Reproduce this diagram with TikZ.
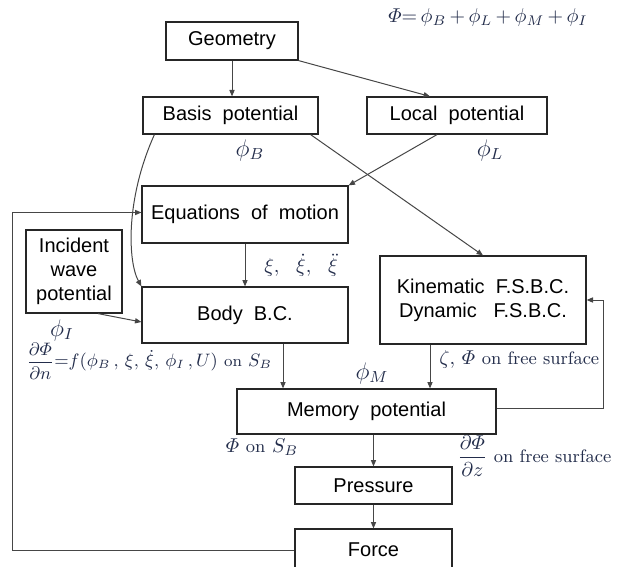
\documentclass[tikz,border=0pt]{standalone}
\usepackage{amsmath,amssymb}
\usepackage{fontspec}
\usepackage{xcolor}
\usepackage{tikz}
\usetikzlibrary{positioning,arrows.meta,calc}
\newfontfamily\boxfont{Liberation Sans}
\definecolor{edge}{RGB}{70,70,70}
\definecolor{lbl}{RGB}{35,45,75}
\tikzset{
  blk/.style={draw=black!85, line width=0.6pt, inner sep=0pt, align=center,
    font=\boxfont\fontsize{10}{12}\selectfont},
  flow/.style={draw=edge, line width=0.5pt, -{Triangle[length=3.2pt,width=2.6pt]}},
  lab/.style={lbl, font=\normalsize},
  pot/.style={lbl, font=\large}
}

\begin{document}
\begin{tikzpicture}[x=0.5pt, y=-0.5pt]
  \useasboundingbox (0,0) rectangle (627,567);
  \clip (0,0) rectangle (627,567);
  % boxes
  \node[blk, minimum width=66pt,  minimum height=19pt]   (geom)  at (232,41)    {Geometry};
  \node[blk, minimum width=87.5pt,minimum height=18.5pt] (basis) at (230.5,115.5) {Basis\ \ potential};
  \node[blk, minimum width=90pt,  minimum height=18.5pt] (local) at (457,115.5) {Local\ \ potential};
  \node[blk, minimum width=103pt, minimum height=28.5pt] (eom)   at (245,214.5) {Equations\ \ of\ \ motion};
  \node[blk, minimum width=48pt,  minimum height=41.5pt] (inc)   at (74,271.5)  {Incident\\wave\\potential};
  \node[blk, minimum width=103pt, minimum height=28pt]   (body)  at (245,315)   {Body\ \ B.C.};
  \node[blk, minimum width=103pt, minimum height=44pt]   (kin)   at (483,300)   {Kinematic\ \ F.S.B.C.\\Dynamic\ \ \ F.S.B.C.};
  \node[blk, minimum width=129.5pt,minimum height=22.5pt](mem)   at (366.5,411.5) {Memory\ \ potential};
  \node[blk, minimum width=78.5pt,minimum height=18.5pt] (pres)  at (373.5,485.5) {Pressure};
  \node[blk, minimum width=78.5pt,minimum height=21pt]   (force) at (373.5,550) {Force};

  % labels
  \node[lab] (total) at (488,18) {$\varPhi{=}\,\phi_B{\,+}\,\phi_L{\,+}\,\phi_M{\,+}\,\phi_I$};
  \node[pot] (phib)  at (250,150) {$\phi_B$};
  \node[pot] (phil)  at (490,150) {$\phi_L$};
  \node[pot] (phii)  at (62,330)  {$\phi_I$};
  \node[pot] (phim)  at (372,373) {$\phi_M$};
  \node[lab] (xis)   at (301,265) {$\xi,\ \ \dot\xi,\ \ \ddot\xi$};
  \node[lab, font=\small, anchor=west, inner sep=0pt] (bodyeq) at (26,361)
    {$\dfrac{\partial\varPhi}{\partial n}{=}f(\phi_B\,,\,\xi,\,\dot\xi,\,\phi_I\,,U)$ {\footnotesize on} $S_B$};
  \node[lab, anchor=west, inner sep=0pt] (zeta) at (439,359) {$\zeta,\,\varPhi$ {\small on free surface}};
  \node[lab] (phisb) at (262,447) {$\varPhi$ {\small on} $S_B$};
  \node[lab, anchor=west, inner sep=0pt] (dz) at (457,456)
    {$\dfrac{\partial\varPhi}{\partial z}$ {\small on free surface}};

  % connectors
  \coordinate (loopx) at (12,0);
  \coordinate (fsx) at (603,0);
  \coordinate (bmx) at (283,0);
  \coordinate (kmx) at (430,0);
  \coordinate (memout) at ([yshift=1.5pt]mem.east);
  \draw[flow] (geom.south) -- (geom.south |- basis.north);
  \draw[flow] (geom.south east) -- ([xshift=-13.5pt]local.north);
  \draw[flow] ([xshift=-4pt]basis.south east) -- (kin.north);
  \draw[flow] ([xshift=-10pt]local.south) -- (eom.north east);
  \draw[flow] ([xshift=6pt]basis.south west) .. controls (125,200) and (128,262) .. (body.north west);
  \draw[flow] (eom.south) -- (body.north);
  \draw[flow] ([xshift=12pt]inc.south) -- ([yshift=-3.5pt]body.west);
  \draw[flow] (force.west) -- (loopx |- force.west) |- ([yshift=1pt]eom.west);
  \draw[flow] (bmx |- body.south) -- (bmx |- mem.north);
  \draw[flow] (kmx |- kin.south) -- (kmx |- mem.north);
  \draw[flow] (memout) -- (fsx |- memout) |- (kin.east);
  \draw[flow] (pres.north |- mem.south) -- (pres.north);
  \draw[flow] (pres.south) -- (force.north);
\end{tikzpicture}
\end{document}
